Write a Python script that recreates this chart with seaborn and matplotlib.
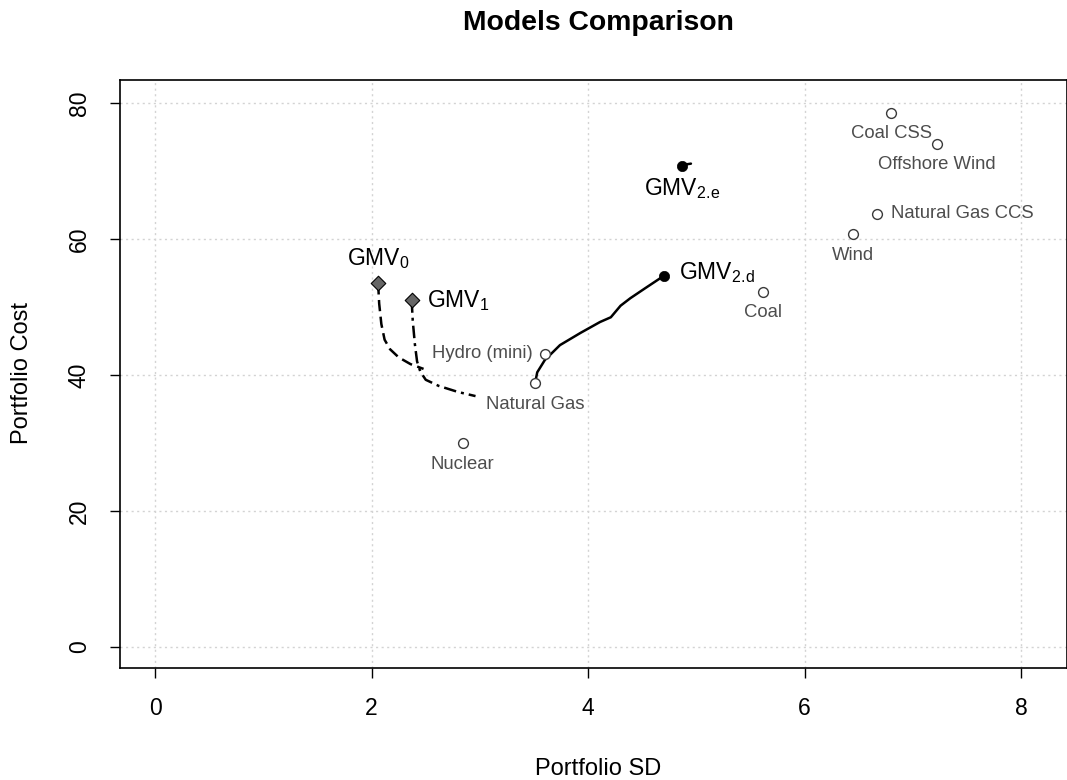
import matplotlib
matplotlib.use("Agg")
import matplotlib.pyplot as plt
import seaborn as sns
import pandas as pd

# technologies (single-asset portfolios)
tech = ["Coal CSS", "Offshore Wind", "Natural Gas CCS", "Wind", "Coal",
        "Hydro (mini)", "Natural Gas", "Nuclear"]
tech_sd = [6.80, 7.22, 6.67, 6.45, 5.62, 3.60, 3.51, 2.84]
tech_cost = [78.5, 74.0, 63.7, 60.7, 52.2, 43.1, 38.8, 30.0]

# frontier paths for each model
gmv0_sd = [2.06, 2.07, 2.09, 2.12, 2.17, 2.25, 2.36, 2.48]
gmv0_cost = [53.5, 50.5, 47.5, 45.2, 43.8, 42.6, 41.6, 40.9]
gmv1_sd = [2.37, 2.38, 2.40, 2.42, 2.45, 2.50, 2.62, 2.80, 2.96]
gmv1_cost = [51.0, 48.0, 44.5, 42.0, 40.5, 39.3, 38.4, 37.5, 36.9]
gmv2d_sd = [3.51, 3.53, 3.60, 3.74, 3.93, 4.11, 4.21, 4.30, 4.39, 4.53, 4.70]
gmv2d_cost = [38.8, 40.4, 42.2, 44.4, 46.2, 47.8, 48.5, 50.2, 51.3, 52.8, 54.6]
gmv2e_sd = [4.87, 4.91, 4.95]
gmv2e_cost = [70.7, 71.0, 71.1]

# GMV portfolio end points
gmv_names = ["GMV$_0$", "GMV$_1$", "GMV$_{\\mathrm{2.\\!d}}$", "GMV$_{\\mathrm{2.\\!e}}$"]
gmv_sd = [2.06, 2.37, 4.70, 4.87]
gmv_cost = [53.5, 51.0, 54.6, 70.7]

sns.set_style("white")
plt.rcParams["font.family"] = ["Liberation Sans", "DejaVu Sans"]
plt.rcParams["text.color"] = "black"
plt.rcParams["mathtext.fontset"] = "custom"
plt.rcParams["mathtext.rm"] = "Liberation Sans"
plt.rcParams["mathtext.it"] = "Liberation Sans:italic"

fig = plt.figure(figsize=(10.67, 7.8), dpi=100)
ax = fig.add_axes([0.1125, 0.1436, 0.8875, 0.7538])

for v in [0, 2, 4, 6, 8]:
    ax.axvline(v, color="#d3d3d3", lw=1, ls=(0, (1.5, 2.5)), zorder=0)
for h in [0, 20, 40, 60, 80]:
    ax.axhline(h, color="#d3d3d3", lw=1, ls=(0, (1.5, 2.5)), zorder=0)

dotdash = (0, (5, 2, 1.2, 2))
sns.lineplot(x=gmv0_sd, y=gmv0_cost, sort=False, ax=ax, color="black",
             lw=1.8, linestyle=(0, (4.5, 2.2)), estimator=None)
sns.lineplot(x=gmv1_sd, y=gmv1_cost, sort=False, ax=ax, color="black",
             lw=1.8, linestyle=dotdash, estimator=None)
sns.lineplot(x=gmv2d_sd, y=gmv2d_cost, sort=False, ax=ax, color="black",
             lw=1.8, estimator=None)
sns.lineplot(x=gmv2e_sd, y=gmv2e_cost, sort=False, ax=ax, color="black",
             lw=1.8, estimator=None)

df_tech = pd.DataFrame({"sd": tech_sd, "cost": tech_cost, "name": tech})
sns.scatterplot(data=df_tech, x="sd", y="cost", ax=ax, marker="o", s=50,
                facecolor="white", edgecolor="#3a3a3a", linewidth=1.0, zorder=4)

sns.scatterplot(x=gmv_sd[:2], y=gmv_cost[:2], ax=ax, marker="D", s=55,
                color="#666666", edgecolor="black", linewidth=0.8, zorder=5)
sns.scatterplot(x=gmv_sd[2:], y=gmv_cost[2:], ax=ax, marker="o", s=55,
                color="black", edgecolor="black", linewidth=0.5, zorder=5)

# tech labels: offsets in points
tech_off = [(0, -14.5, "center"), (0, -14.5, "center"), (10, 0, "left"),
            (0, -15, "center"), (0, -15, "center"), (-9, 0, "right"),
            (0, -15.5, "center"), (0, -15.5, "center")]
for name, x, y, (dx, dy, ha) in zip(tech, tech_sd, tech_cost, tech_off):
    ax.annotate(name, (x, y), xytext=(dx, dy), textcoords="offset points",
                ha=ha, va="center", fontsize=13.3, color="#4d4d4d")

gmv_off = [(0, 18, "center"), (11, 0, "left"), (11, 2, "left"), (0, -16, "center")]
for name, x, y, (dx, dy, ha) in zip(gmv_names, gmv_sd, gmv_cost, gmv_off):
    ax.annotate(name, (x, y), xytext=(dx, dy), textcoords="offset points",
                ha=ha, va="center", fontsize=16.5, color="black")

ax.set_xlim(-0.324, 8.424)
ax.set_ylim(-3.1, 83.4)
ax.set_xticks([0, 2, 4, 6, 8])
ax.set_yticks([0, 20, 40, 60, 80])
ax.tick_params(axis="both", direction="out", length=7, width=1, labelsize=16.5,
               bottom=True, left=True, color="black", labelcolor="black")
ax.tick_params(axis="x", pad=14)
ax.tick_params(axis="y", pad=14)
plt.setp(ax.get_yticklabels(), rotation=90, va="center")
for s in ax.spines.values():
    s.set_color("black")
    s.set_linewidth(1.2)
ax.set_xlabel("")
ax.set_ylabel("")

fig.text(0.5604, 0.9705, "Models Comparison", ha="center", va="center",
         fontsize=20.4, fontweight="bold")
fig.text(0.5604, 0.0141, "Portfolio SD", ha="center", va="center", fontsize=17)
fig.text(0.0206, 0.5218, "Portfolio Cost", ha="center", va="center",
         rotation=90, fontsize=17)

fig.savefig("out.png", dpi=100)
